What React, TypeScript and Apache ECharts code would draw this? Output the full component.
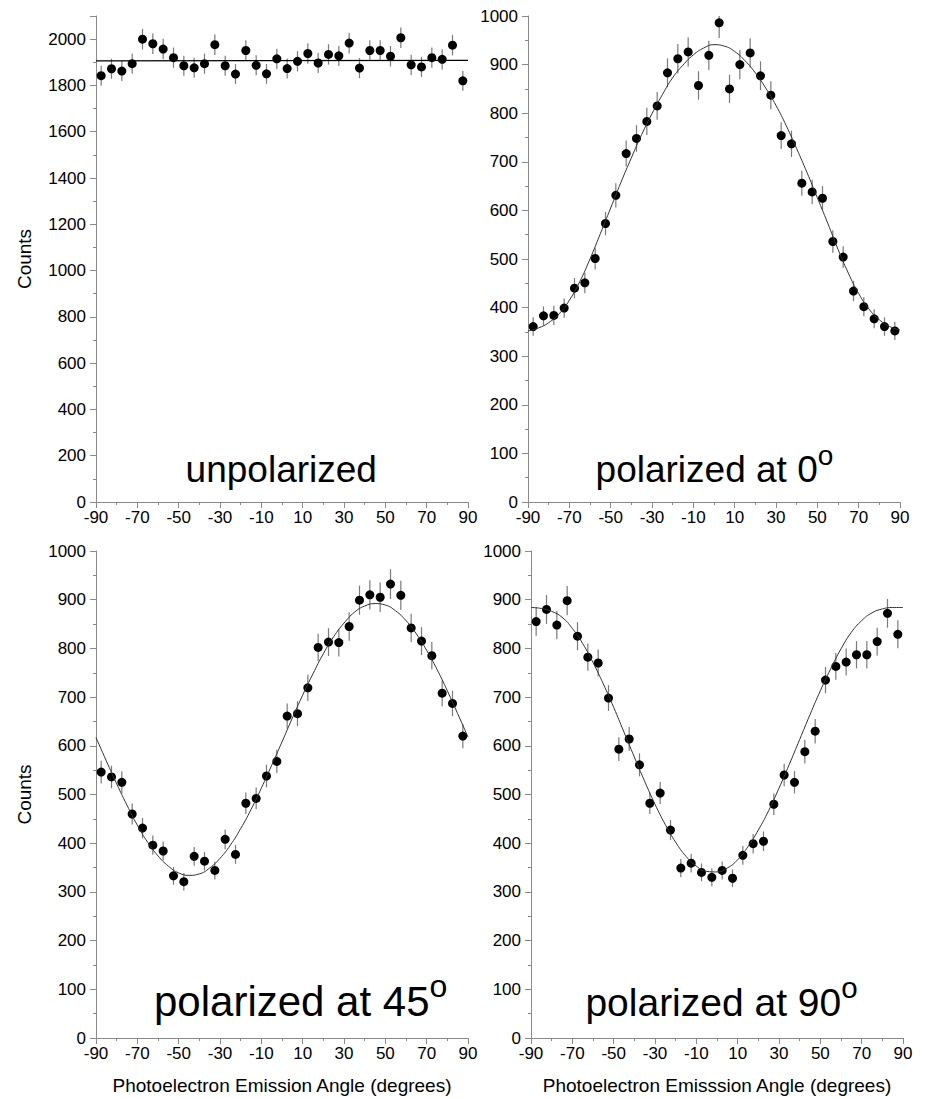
import React, { useEffect, useRef } from "react";
import * as echarts from "echarts";

// Measured emission angles (degrees)
const angles = [
  -87.5, -82.5, -77.5, -72.5, -67.5, -62.5, -57.5, -52.5, -47.5, -42.5, -37.5, -32.5,
  -27.5, -22.5, -17.5, -12.5, -7.5, -2.5, 2.5, 7.5, 12.5, 17.5, 22.5, 27.5,
  32.5, 37.5, 42.5, 47.5, 52.5, 57.5, 62.5, 67.5, 72.5, 77.5, 82.5, 87.5,
];

// Counts
const unpolarized = [
  1842, 1872, 1862, 1894, 2000, 1980, 1957, 1920, 1885, 1876, 1894, 1976,
  1885, 1849, 1951, 1887, 1850, 1915, 1873, 1904, 1938, 1897, 1934, 1928,
  1983, 1875, 1951, 1951, 1926, 2006, 1889, 1880, 1920, 1913, 1974, 1820,
];
const polarized0 = [
  361, 383, 384, 399, 440, 451, 501, 573, 631, 717, 748, 783,
  815, 883, 912, 926, 857, 919, 986, 850, 900, 924, 877, 837,
  754, 737, 656, 638, 625, 536, 504, 434, 402, 377, 361, 352,
];
const polarized45 = [
  546, 536, 525, 460, 431, 396, 384, 333, 321, 373, 363, 344,
  408, 377, 482, 492, 538, 568, 661, 666, 719, 802, 813, 812,
  845, 899, 910, 905, 932, 909, 842, 815, 785, 708, 687, 620,
];
const polarized90 = [
  855, 880, 848, 898, 825, 782, 770, 698, 593, 614, 561, 482,
  503, 427, 349, 359, 340, 330, 344, 328, 375, 399, 404, 480,
  540, 525, 588, 630, 735, 763, 772, 787, 787, 814, 872, 829,
];

// Fit curves
const fitFlatAngles = [-90, 90];
const fitUnpolarized = [1906, 1908];
const fitAngles = [
  -90, -85, -80, -75, -70, -65, -60, -55, -50, -45, -40, -35, -30, -25, -20, -15, -10, -5, 0,
  5, 10, 15, 20, 25, 30, 35, 40, 45, 50, 55, 60, 65, 70, 75, 80, 85, 90,
];
const fitPolarized0 = [
  352, 358, 369, 387, 415, 453, 500, 552, 605, 658, 708, 756, 799, 838, 873, 899, 920, 934, 941,
  938, 927, 908, 883, 852, 816, 774, 727, 678, 626, 574, 520, 471, 429, 397, 375, 361, 354,
];
const fitPolarized45 = [
  617, 569, 522, 478, 437, 402, 374, 353, 339, 334, 337, 349, 369, 396, 430, 469, 513, 560, 608,
  657, 704, 748, 789, 824, 852, 874, 887, 892, 889, 877, 857, 830, 796, 757, 713, 666, 618,
];
const fitPolarized90 = [
  884, 882, 876, 864, 841, 810, 771, 727, 679, 628, 577, 527, 480, 438, 402, 373, 353, 342, 341,
  349, 366, 393, 427, 467, 513, 562, 613, 664, 713, 758, 799, 833, 857, 873, 881, 884, 884,
];

const xTitleLeft = "Photoelectron Emission Angle (degrees)";
const xTitleRight = "Photoelectron Emisssion Angle (degrees)";
const yTitle = "Counts";

const FONT = '"Liberation Sans", Arial, Helvetica, sans-serif';
const AXIS_GRAY = "#8a8a8a";

const panels = [
  { grid: { left: 96, top: 16, width: 372, height: 486 }, yMax: 2100, yInterval: 200, counts: unpolarized, fitX: fitFlatAngles, fitY: fitUnpolarized, yName: yTitle, xName: "", fitColor: "#000", fitWidth: 1.3 },
  { grid: { left: 528, top: 16, width: 372, height: 486 }, yMax: 1000, yInterval: 100, counts: polarized0, fitX: fitAngles, fitY: fitPolarized0, yName: "", xName: "", fitColor: "#333", fitWidth: 1 },
  { grid: { left: 96, top: 551, width: 372, height: 487 }, yMax: 1000, yInterval: 100, counts: polarized45, fitX: fitAngles, fitY: fitPolarized45, yName: yTitle, xName: xTitleLeft, fitColor: "#333", fitWidth: 1 },
  { grid: { left: 531, top: 551, width: 372, height: 487 }, yMax: 1000, yInterval: 100, counts: polarized90, fitX: fitAngles, fitY: fitPolarized90, yName: "", xName: xTitleRight, fitColor: "#333", fitWidth: 1 },
];

function textEl(text: string, x: number, y: number, size: number, align: string) {
  return {
    type: "text",
    x,
    y,
    silent: true,
    style: {
      text,
      font: `${size}px ${FONT}`,
      fill: "#000",
      textAlign: align,
      align,
      textVerticalAlign: "middle",
      verticalAlign: "middle",
    },
  };
}

const plain = (v: number) => String(v);

export default function App() {
  const ref = useRef<HTMLDivElement>(null);

  useEffect(() => {
    if (!ref.current) return;
    const chart = echarts.init(ref.current, undefined, { renderer: "svg" });

    const grid: any[] = [];
    const xAxis: any[] = [];
    const yAxis: any[] = [];
    const series: any[] = [];

    panels.forEach((p, i) => {
      grid.push({ ...p.grid, containLabel: false });
      xAxis.push({
        type: "value",
        gridIndex: i,
        min: -90,
        max: 90,
        interval: 20,
        name: p.xName,
        nameLocation: "middle",
        nameGap: 38,
        nameTextStyle: { fontSize: 19, color: "#000", fontFamily: FONT },
        axisLine: { show: true, onZero: false, lineStyle: { color: AXIS_GRAY, width: 1 } },
        axisTick: { show: true, length: 6, lineStyle: { color: AXIS_GRAY } },
        minorTick: { show: true, splitNumber: 2, length: 3, lineStyle: { color: AXIS_GRAY } },
        splitLine: { show: false },
        minorSplitLine: { show: false },
        axisLabel: { color: "#000", fontSize: 17, fontFamily: FONT, margin: 7, formatter: plain },
      });
      yAxis.push({
        type: "value",
        gridIndex: i,
        min: 0,
        max: p.yMax,
        interval: p.yInterval,
        name: p.yName,
        nameLocation: "middle",
        nameGap: 62,
        nameTextStyle: { fontSize: 19, color: "#000", fontFamily: FONT },
        axisLine: { show: true, onZero: false, lineStyle: { color: AXIS_GRAY, width: 1 } },
        axisTick: { show: true, length: 6, lineStyle: { color: AXIS_GRAY } },
        minorTick: { show: true, splitNumber: 2, length: 3, lineStyle: { color: AXIS_GRAY } },
        splitLine: { show: false },
        minorSplitLine: { show: false },
        axisLabel: { color: "#000", fontSize: 17, fontFamily: FONT, margin: 10, showMaxLabel: p.yMax === 1000, formatter: plain },
      });

      // Poisson error bars (sqrt of counts)
      series.push({
        type: "custom",
        xAxisIndex: i,
        yAxisIndex: i,
        clip: true,
        z: 2,
        silent: true,
        data: angles.map((a, k) => {
          const v = p.counts[k];
          const e = Math.sqrt(v);
          return [a, v - e, v + e];
        }),
        renderItem: (params: any, api: any) => {
          const x = api.value(0);
          const lo = api.coord([x, api.value(1)]);
          const hi = api.coord([x, api.value(2)]);
          return {
            type: "line",
            shape: { x1: lo[0], y1: lo[1], x2: hi[0], y2: hi[1] },
            style: { stroke: "#7a7a7a", lineWidth: 1.2 },
          };
        },
      });
      series.push({
        type: "scatter",
        xAxisIndex: i,
        yAxisIndex: i,
        symbol: "circle",
        symbolSize: 9,
        z: 3,
        itemStyle: { color: "#000", opacity: 1 },
        data: angles.map((a, k) => [a, p.counts[k]]),
      });
      series.push({
        type: "line",
        xAxisIndex: i,
        yAxisIndex: i,
        showSymbol: false,
        symbol: "none",
        smooth: true,
        z: 4,
        lineStyle: { color: p.fitColor, width: p.fitWidth },
        data: p.fitX.map((a, k) => [a, p.fitY[k]]),
      });
    });

    const graphic: any[] = [
      textEl("unpolarized", 185.6, 469.2, 37, "left"),
      textEl("polarized at 0", 595.6, 469.2, 37, "left"),
      textEl("o", 817.7, 455.3, 28, "left"),
      textEl("polarized at 45", 154, 1001.4, 42, "left"),
      textEl("o", 429.5, 985.6, 32, "left"),
      textEl("polarized at 90", 585.4, 1002.5, 39, "left"),
      textEl("o", 841.2, 987.8, 29.5, "left"),
    ];

    chart.setOption({
      animation: false,
      backgroundColor: "#fff",
      textStyle: { fontFamily: FONT },
      grid,
      xAxis,
      yAxis,
      series,
      graphic,
    });

    return () => chart.dispose();
  }, []);

  return (
    <div
      ref={ref}
      style={{ position: "absolute", left: 0, top: 0, width: 926, height: 1098 }}
    />
  );
}
